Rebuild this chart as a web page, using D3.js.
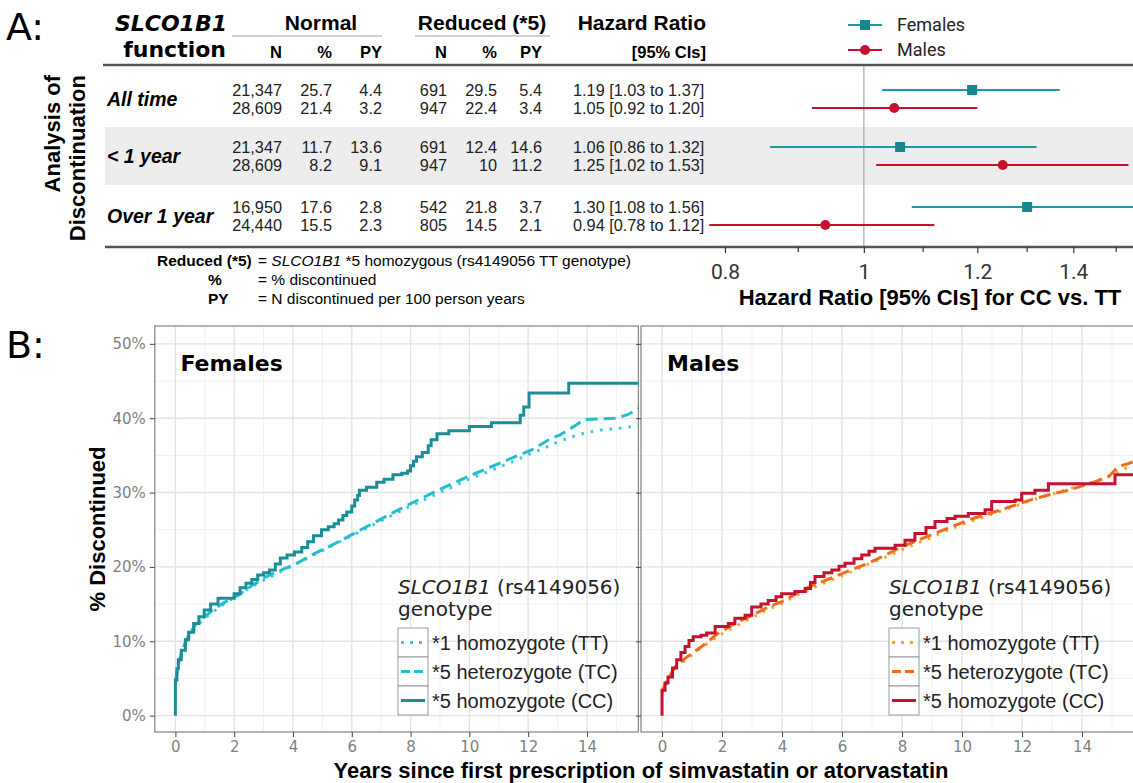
<!DOCTYPE html>
<html>
<head>
<meta charset="utf-8">
<script src="https://cdn.jsdelivr.net/npm/d3@7"></script>
<style>
  body { margin: 0; background: #fff; }
</style>
</head>
<body>
<div id="chart"></div>
<script>
// ---------- panel A : table + forest plot ----------
const periods = ["All time", "< 1 year", "Over 1 year"];

const femNormN   = ["21,347", "21,347", "16,950"];
const maleNormN  = ["28,609", "28,609", "24,440"];
const femNormPct = ["25.7", "11.7", "17.6"];
const maleNormPct= ["21.4", "8.2", "15.5"];
const femNormPY  = ["4.4", "13.6", "2.8"];
const maleNormPY = ["3.2", "9.1", "2.3"];
const femRedN    = ["691", "691", "542"];
const maleRedN   = ["947", "947", "805"];
const femRedPct  = ["29.5", "12.4", "21.8"];
const maleRedPct = ["22.4", "10", "14.5"];
const femRedPY   = ["5.4", "14.6", "3.7"];
const maleRedPY  = ["3.4", "11.2", "2.1"];

const femHR  = [1.19, 1.06, 1.30];
const femLo  = [1.03, 0.86, 1.08];
const femHi  = [1.37, 1.32, 1.56];
const maleHR = [1.05, 1.25, 0.94];
const maleLo = [0.92, 1.02, 0.78];
const maleHi = [1.20, 1.53, 1.12];

const hrTicks = [0.8, 1, 1.2, 1.4];
const hrMinorTicks = [0.9, 1.1, 1.3, 1.5];

// ---------- panel B : Kaplan-Meier curves (years, % discontinued) ----------
const femTT = [[0,4.3],[0.1,6.8],[0.25,8.8],[0.45,10.5],[0.7,12.0],[1,13.1],[1.5,14.6],[2,15.9],[2.5,17.1],[3,18.2],[3.5,19.2],[4,20.2],[4.5,21.2],[5,22.2],[5.5,23.2],[6,24.2],[6.5,25.2],[7,26.2],[7.5,27.2],[8,28.2],[8.5,29.1],[9,30.0],[9.5,30.9],[10,31.8],[10.5,32.6],[11,33.4],[11.5,34.2],[12,35.1],[12.5,35.9],[13,36.8],[13.5,37.5],[14,38.1],[14.5,38.4],[15,38.6],[15.75,39.0]];
const femTC = [[0,4.5],[0.1,7.0],[0.25,9.0],[0.45,10.8],[0.68,12.2],[1,13.3],[1.33,14.4],[1.7,15.3],[2.14,16.2],[2.6,17.5],[3.1,18.7],[3.55,19.5],[4.05,20.3],[4.73,21.8],[5.2,22.7],[5.7,23.7],[6.5,25.4],[7.45,27.4],[8.3,29.1],[9.2,30.8],[10.1,32.4],[11,33.9],[12.1,35.7],[12.7,37.1],[13.1,37.8],[13.56,38.9],[13.9,39.8],[15,40.0],[15.4,40.5],[15.75,41.3]];
const femCC = [[0,0],[0,4.8],[0.05,6.3],[0.1,7.5],[0.2,8.8],[0.34,10.2],[0.45,11.2],[0.62,12.4],[0.8,13.3],[0.98,14.2],[1.2,15.0],[1.45,15.8],[2.0,16.4],[2.2,17.2],[2.4,17.8],[2.6,18.3],[2.8,18.9],[3.0,19.2],[3.2,19.6],[3.4,20.4],[3.57,21.2],[3.8,21.6],[4.05,22.0],[4.3,22.6],[4.5,23.4],[4.7,24.2],[4.97,25.0],[5.2,25.4],[5.4,25.8],[5.55,26.3],[5.7,26.9],[5.83,27.4],[6.0,28.2],[6.1,29.0],[6.2,29.6],[6.26,30.3],[6.5,30.7],[6.85,31.4],[7.1,31.8],[7.4,32.4],[7.7,32.6],[7.9,32.9],[8.0,33.6],[8.1,34.2],[8.2,34.8],[8.4,35.4],[8.6,36.3],[8.7,37.1],[8.9,37.9],[9.3,38.3],[10,38.9],[10.75,39.4],[11.73,40.4],[11.85,41.5],[12.03,43.4],[13.38,44.7],[15.75,44.7]];

const maleTT = [[0,3.0],[0.2,4.8],[0.45,6.4],[0.77,7.5],[1.3,9.1],[1.9,10.8],[2.5,12.1],[3,13.2],[3.5,14.2],[4,15.1],[4.5,16.2],[5,17.1],[5.5,18.0],[6,18.8],[6.5,19.7],[7,20.6],[7.5,21.4],[8,22.3],[8.5,23.2],[9,24.0],[9.5,24.9],[10,25.7],[10.5,26.4],[11,27.1],[11.5,27.8],[12,28.5],[12.5,29.2],[13,29.8],[13.5,30.4],[14,31.0],[14.5,31.6],[15,32.4],[15.4,33.2],[15.75,33.7]];
const maleTC = [[0,3.2],[0.2,5.0],[0.45,6.6],[0.77,7.7],[1.32,9.3],[1.88,11.1],[2.43,12.4],[3,13.5],[3.54,14.6],[4.1,15.5],[4.66,16.9],[5.2,17.8],[5.77,18.7],[6.3,19.6],[6.88,20.5],[7.45,21.6],[7.99,22.7],[8.55,23.6],[9.1,24.5],[9.65,25.4],[10.21,26.3],[10.75,27.0],[11.32,27.7],[11.9,28.5],[12.43,29.2],[13,29.8],[13.54,30.3],[14.32,31.3],[14.88,32.1],[15.21,33.5],[15.54,33.9],[15.75,34.2]];
const maleCC = [[0,0],[0,3.4],[0.1,4.4],[0.2,5.2],[0.35,6.4],[0.49,7.5],[0.63,8.5],[0.77,9.3],[0.9,10.1],[1.04,10.6],[1.3,10.8],[1.49,11.1],[1.77,12.0],[2.21,12.4],[2.43,13.1],[2.77,13.5],[2.99,14.6],[3.3,15.0],[3.54,15.5],[3.8,16.0],[3.99,16.4],[4.43,16.7],[4.77,17.1],[4.95,17.9],[5.1,18.7],[5.4,19.2],[5.66,19.6],[5.9,20.1],[6.1,20.5],[6.4,21.1],[6.66,21.6],[6.9,22.1],[7.1,22.5],[7.77,22.9],[8.1,23.6],[8.43,24.5],[8.8,25.3],[9.1,26.1],[9.5,26.5],[9.77,26.8],[10.21,27.2],[10.77,27.7],[10.99,28.8],[11.77,29.0],[11.99,29.9],[12.43,30.3],[12.88,31.2],[15.1,32.4],[15.75,32.4]];

const yearTicks = [0, 2, 4, 6, 8, 10, 12, 14];
const pctTicks = [0, 10, 20, 30, 40, 50];
const genotypeLabels = ["*1 homozygote (TT)", "*5 heterozygote (TC)", "*5 homozygote (CC)"];

const arial = "'Liberation Sans', Arial, sans-serif";
const verdana = "'DejaVu Sans', Verdana, sans-serif";
const teal = "#1f9aa3", tealDark = "#18868f", red = "#c8102e";

const svg = d3.select("#chart").append("svg")
    .attr("width", 1133)
    .attr("height", 783)
    .style("font-family", arial);

// ================= PANEL A =================
svg.append("text").attr("x", 6).attr("y", 40)
    .attr("font-family", verdana).attr("font-size", 38).text("A:");

const rowC = [99, 156, 216];
const off = 9;

// gray band for middle row
svg.append("rect").attr("x", 105).attr("y", 127).attr("width", 1028).attr("height", 58)
    .attr("fill", "#ededed");

// header
svg.append("text").attr("x", 227).attr("y", 31).attr("text-anchor", "end")
    .attr("font-family", verdana).attr("font-weight", "bold").attr("font-style", "italic")
    .attr("font-size", 22).text("SLCO1B1");
svg.append("text").attr("x", 226).attr("y", 57).attr("text-anchor", "end")
    .attr("font-family", verdana).attr("font-weight", "bold")
    .attr("font-size", 22).text("function");

const groupHead = [
    { label: "Normal", x: 321, x0: 232, x1: 382 },
    { label: "Reduced (*5)", x: 482, x0: 415, x1: 550 }
];
groupHead.forEach(g => {
    svg.append("text").attr("x", g.x).attr("y", 30).attr("text-anchor", "middle")
        .attr("font-weight", "bold").attr("font-size", 21).text(g.label);
    svg.append("line").attr("x1", g.x0).attr("x2", g.x1).attr("y1", 36).attr("y2", 36)
        .attr("stroke", "#cfcfcf").attr("stroke-width", 2);
});
svg.append("text").attr("x", 706).attr("y", 30).attr("text-anchor", "end")
    .attr("font-weight", "bold").attr("font-size", 21).text("Hazard Ratio");
svg.append("text").attr("x", 706).attr("y", 58).attr("text-anchor", "end")
    .attr("font-weight", "bold").attr("font-size", 16.5).text("[95% CIs]");

const colX = [282, 332, 382, 447, 497, 542];
const colHead = ["N", "%", "PY", "N", "%", "PY"];
colHead.forEach((h, i) => {
    svg.append("text").attr("x", colX[i]).attr("y", 58).attr("text-anchor", "end")
        .attr("font-weight", "bold").attr("font-size", 16.5).text(h);
});

// rules
svg.append("line").attr("x1", 103).attr("x2", 1133).attr("y1", 65).attr("y2", 65)
    .attr("stroke", "#555").attr("stroke-width", 2.5);

// row labels
periods.forEach((p, i) => {
    svg.append("text").attr("x", 107).attr("y", rowC[i] + 7)
        .attr("font-weight", "bold").attr("font-style", "italic").attr("font-size", 19.5).text(p);
});

// row values
const fmt = d3.format(".2f");
const femCols = [femNormN, femNormPct, femNormPY, femRedN, femRedPct, femRedPY];
const maleCols = [maleNormN, maleNormPct, maleNormPY, maleRedN, maleRedPct, maleRedPY];
periods.forEach((p, i) => {
    femCols.forEach((col, j) => {
        svg.append("text").attr("x", colX[j]).attr("y", rowC[i] - off + 6)
            .attr("text-anchor", "end").attr("font-size", 16.3).attr("fill", "#222").text(col[i]);
    });
    maleCols.forEach((col, j) => {
        svg.append("text").attr("x", colX[j]).attr("y", rowC[i] + off + 6)
            .attr("text-anchor", "end").attr("font-size", 16.3).attr("fill", "#222").text(col[i]);
    });
    svg.append("text").attr("x", 573).attr("y", rowC[i] - off + 6)
        .attr("font-size", 16.3).attr("fill", "#222")
        .text(`${fmt(femHR[i])} [${fmt(femLo[i])} to ${fmt(femHi[i])}]`);
    svg.append("text").attr("x", 573).attr("y", rowC[i] + off + 6)
        .attr("font-size", 16.3).attr("fill", "#222")
        .text(`${fmt(maleHR[i])} [${fmt(maleLo[i])} to ${fmt(maleHi[i])}]`);
});

// y title of the table
svg.append("text").attr("transform", "translate(60,75) rotate(-90)")
    .attr("text-anchor", "end").attr("font-weight", "bold").attr("font-size", 22)
    .text("Analysis of");
svg.append("text").attr("transform", "translate(85,75) rotate(-90)")
    .attr("text-anchor", "end").attr("font-weight", "bold").attr("font-size", 22)
    .text("Discontinuation");

// forest plot
const hrX = d3.scaleLog().domain([0.776, 1.541]).range([706, 1133]);

svg.append("defs").append("clipPath").attr("id", "clipHR")
    .append("rect").attr("x", 706).attr("y", 60).attr("width", 427).attr("height", 190);

svg.append("line").attr("x1", hrX(1)).attr("x2", hrX(1)).attr("y1", 66).attr("y2", 247)
    .attr("stroke", "#aaa").attr("stroke-width", 1.2);

const forest = svg.append("g").attr("clip-path", "url(#clipHR)");
periods.forEach((p, i) => {
    forest.append("line").attr("x1", hrX(femLo[i])).attr("x2", hrX(femHi[i]))
        .attr("y1", rowC[i] - off).attr("y2", rowC[i] - off)
        .attr("stroke", teal).attr("stroke-width", 2);
    forest.append("rect").attr("x", hrX(femHR[i]) - 5).attr("y", rowC[i] - off - 5)
        .attr("width", 10).attr("height", 10).attr("fill", tealDark);
    forest.append("line").attr("x1", hrX(maleLo[i])).attr("x2", hrX(maleHi[i]))
        .attr("y1", rowC[i] + off).attr("y2", rowC[i] + off)
        .attr("stroke", red).attr("stroke-width", 2);
    forest.append("circle").attr("cx", hrX(maleHR[i])).attr("cy", rowC[i] + off)
        .attr("r", 5).attr("fill", red);
});

// bottom rule = forest x axis
svg.append("line").attr("x1", 105).attr("x2", 1133).attr("y1", 247).attr("y2", 247)
    .attr("stroke", "#555").attr("stroke-width", 2.5);
const hrAxis = svg.append("g").attr("transform", "translate(0,247)")
    .call(d3.axisBottom(hrX).tickValues(hrTicks).tickFormat(d3.format("")).tickSize(6));
hrAxis.select(".domain").remove();
hrAxis.selectAll("line").attr("stroke", "#333").attr("stroke-width", 1.2);
hrAxis.selectAll("text").attr("font-family", "Roboto, sans-serif").attr("font-size", 21)
    .attr("fill", "#333").attr("dy", "1.1em");
svg.selectAll(".hrminor").data(hrMinorTicks).enter().append("line")
    .attr("x1", d => hrX(d)).attr("x2", d => hrX(d)).attr("y1", 247).attr("y2", 252)
    .attr("stroke", "#333").attr("stroke-width", 1.2);
svg.append("text").attr("x", 930).attr("y", 305).attr("text-anchor", "middle")
    .attr("font-weight", "bold").attr("font-size", 22)
    .text("Hazard Ratio [95% CIs] for CC vs. TT");

// forest legend
const hrLegend = [
    { label: "Females", color: teal, mark: "square", y: 25 },
    { label: "Males", color: red, mark: "circle", y: 50 }
];
hrLegend.forEach(l => {
    svg.append("line").attr("x1", 848).attr("x2", 882).attr("y1", l.y).attr("y2", l.y)
        .attr("stroke", l.color).attr("stroke-width", 2);
    if (l.mark === "square") {
        svg.append("rect").attr("x", 860).attr("y", l.y - 5).attr("width", 10).attr("height", 10)
            .attr("fill", tealDark);
    } else {
        svg.append("circle").attr("cx", 865).attr("cy", l.y).attr("r", 5).attr("fill", red);
    }
    svg.append("text").attr("x", 897).attr("y", l.y + 6).attr("font-family", "Roboto, sans-serif")
        .attr("font-size", 18).attr("fill", "#222").text(l.label);
});

// footnote
const notes = [
    { key: "Reduced (*5)", kx: 157, y: 266 },
    { key: "%", kx: 208, y: 285 },
    { key: "PY", kx: 208, y: 304 }
];
notes.forEach(n => {
    svg.append("text").attr("x", n.kx).attr("y", n.y).attr("font-weight", "bold")
        .attr("font-size", 15.5).text(n.key);
});
const note1 = svg.append("text").attr("x", 258).attr("y", 266).attr("font-size", 15.5);
note1.append("tspan").text("= ");
note1.append("tspan").attr("font-style", "italic").text("SLCO1B1");
note1.append("tspan").text(" *5 homozygous (rs4149056 TT genotype)");
svg.append("text").attr("x", 258).attr("y", 285).attr("font-size", 15.5).text("= % discontinued");
svg.append("text").attr("x", 258).attr("y", 304).attr("font-size", 15.5)
    .text("= N discontinued per 100 person years");

// ================= PANEL B =================
svg.append("text").attr("x", 6).attr("y", 358)
    .attr("font-family", verdana).attr("font-size", 38).text("B:");

const y = d3.scaleLinear().domain([-2.2, 52.4]).range([732, 326]);

const panels = [
    {
        id: "fem", title: "Females", x0: 154.8, x1: 638.4, showY: true,
        series: [femTT, femTC, femCC],
        colors: ["#35c9d9", "#22bfd0", "#1b8d97"],
        legendX: 398
    },
    {
        id: "male", title: "Males", x0: 641, x1: 1134.5, showY: false,
        series: [maleTT, maleTC, maleCC],
        colors: ["#f5a524", "#f26a1b", "#c4122f"],
        legendX: 889
    }
];
const dashes = ["2.5,7", "12,6", null];
const curves = [d3.curveLinear, d3.curveLinear, d3.curveStepAfter];

panels.forEach(p => {
    const x = d3.scaleLinear().domain([-0.7, 15.75]).range([p.x0, p.x1]);
    const g = svg.append("g");

    // grid
    const minorX = d3.range(1, 16, 2);
    const minorY = d3.range(5, 55, 10);
    g.selectAll(".mx").data(minorX).enter().append("line")
        .attr("x1", d => x(d)).attr("x2", d => x(d)).attr("y1", 326).attr("y2", 732)
        .attr("stroke", "#f1f1f1").attr("stroke-width", 1);
    g.selectAll(".my").data(minorY).enter().append("line")
        .attr("x1", p.x0).attr("x2", p.x1).attr("y1", d => y(d)).attr("y2", d => y(d))
        .attr("stroke", "#f1f1f1").attr("stroke-width", 1);
    g.selectAll(".gx").data(yearTicks).enter().append("line")
        .attr("x1", d => x(d)).attr("x2", d => x(d)).attr("y1", 326).attr("y2", 732)
        .attr("stroke", "#e4e4e4").attr("stroke-width", 1.4);
    g.selectAll(".gy").data(pctTicks).enter().append("line")
        .attr("x1", p.x0).attr("x2", p.x1).attr("y1", d => y(d)).attr("y2", d => y(d))
        .attr("stroke", "#e4e4e4").attr("stroke-width", 1.4);

    // curves
    svg.append("defs").append("clipPath").attr("id", "clip-" + p.id)
        .append("rect").attr("x", p.x0).attr("y", 326).attr("width", p.x1 - p.x0).attr("height", 406);
    const cg = g.append("g").attr("clip-path", `url(#clip-${p.id})`);
    p.series.forEach((s, i) => {
        const line = d3.line().x(d => x(d[0])).y(d => y(d[1])).curve(curves[i]);
        cg.append("path").datum(s).attr("d", line)
            .attr("fill", "none").attr("stroke", p.colors[i]).attr("stroke-width", 3)
            .attr("stroke-dasharray", dashes[i]);
    });

    // border
    g.append("rect").attr("x", p.x0).attr("y", 326).attr("width", p.x1 - p.x0).attr("height", 406)
        .attr("fill", "none").attr("stroke", "#8a8a8a").attr("stroke-width", 1.3);

    // axes
    const ax = g.append("g").attr("transform", "translate(0,732)")
        .call(d3.axisBottom(x).tickValues(yearTicks).tickSize(5).tickPadding(4));
    ax.select(".domain").remove();
    ax.selectAll("line").attr("stroke", "#444");
    ax.selectAll("text").attr("font-family", verdana).attr("font-size", 15).attr("fill", "#7f7f7f");

    const ay = g.append("g").attr("transform", `translate(${p.x0},0)`)
        .call(d3.axisLeft(y).tickValues(pctTicks).tickSize(5).tickPadding(4)
            .tickFormat(d => p.showY ? d + "%" : ""));
    ay.select(".domain").remove();
    ay.selectAll("line").attr("stroke", "#444");
    ay.selectAll("text").attr("font-family", verdana).attr("font-size", 15).attr("fill", "#7f7f7f");

    // panel title
    g.append("text").attr("x", x(0) + 5).attr("y", 371)
        .attr("font-family", verdana).attr("font-weight", "bold").attr("font-size", 22)
        .text(p.title);

    // legend
    const lx = p.legendX;
    const lt = g.append("text").attr("x", lx).attr("y", 594)
        .attr("font-family", verdana).attr("font-size", 20).attr("fill", "#222");
    lt.append("tspan").attr("font-style", "italic").text("SLCO1B1");
    lt.append("tspan").text(" (rs4149056)");
    g.append("text").attr("x", lx).attr("y", 616)
        .attr("font-family", verdana).attr("font-size", 20).attr("fill", "#222").text("genotype");
    genotypeLabels.forEach((lab, i) => {
        const top = 628 + i * 29;
        g.append("rect").attr("x", lx).attr("y", top).attr("width", 30).attr("height", 29)
            .attr("fill", "#fff").attr("stroke", "#999").attr("stroke-width", 1);
        g.append("line").attr("x1", lx + 3).attr("x2", lx + 27)
            .attr("y1", top + 14.5).attr("y2", top + 14.5)
            .attr("stroke", p.colors[i]).attr("stroke-width", 3)
            .attr("stroke-dasharray", i === 0 ? "3,6" : (i === 1 ? "9,4" : null));
        g.append("text").attr("x", lx + 34).attr("y", top + 21.5)
            .attr("font-size", 20).attr("fill", "#222").text(lab);
    });
});

svg.append("text").attr("transform", "translate(105,529) rotate(-90)")
    .attr("text-anchor", "middle").attr("font-weight", "bold").attr("font-size", 22)
    .text("% Discontinued");
svg.append("text").attr("x", 641).attr("y", 778).attr("text-anchor", "middle")
    .attr("font-weight", "bold").attr("font-size", 22)
    .text("Years since first prescription of simvastatin or atorvastatin");
</script>
</body>
</html>
